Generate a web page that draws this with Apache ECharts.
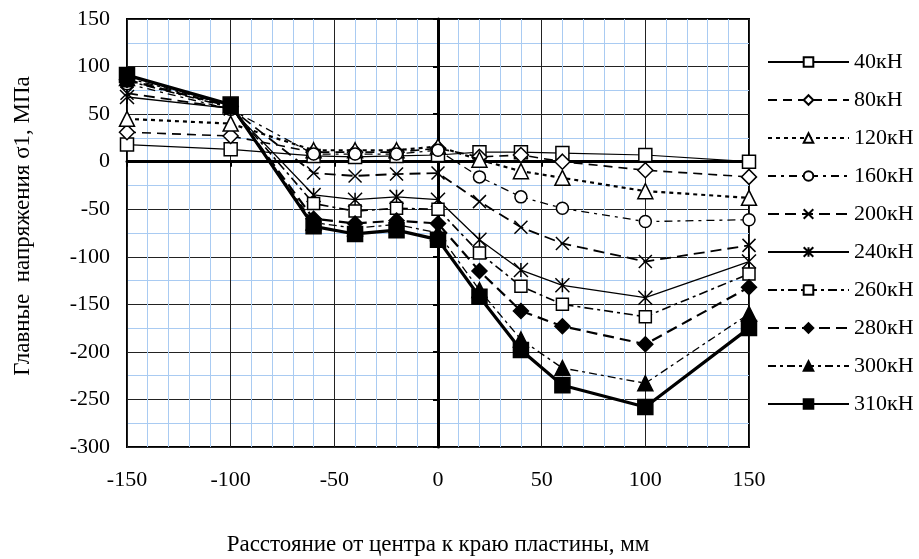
<!DOCTYPE html>
<html>
<head>
<meta charset="utf-8">
<script src="https://cdn.jsdelivr.net/npm/echarts@6/dist/echarts.min.js"></script>
<style>
html,body{margin:0;padding:0;background:#fff;}
#chart{width:919px;height:559px;}
</style>
</head>
<body>
<div id="chart"></div>
<script>
// distances from plate centre, mm
var xValues = [-150, -100, -60, -40, -20, 0, 20, 40, 60, 100, 150];
var seriesNames = ['40кН', '80кН', '120кН', '160кН', '200кН', '240кН', '260кН', '280кН', '300кН', '310кН'];
var s40  = [18, 13, 6, 5, 6, 7, 10, 10, 9, 7, 0];
var s80  = [31, 27, 10, 10, 10, 14, 5, 7, 0, -9, -16];
var s120 = [45, 40, 12, 12, 12, 16, 2, -10, -17, -31, -38];
var s160 = [82, 55, 8, 8, 8, 12, -16, -37, -49, -63, -61];
var s200 = [72, 56, -12, -15, -13, -12, -42, -69, -86, -105, -88];
var s240 = [68, 56, -35, -40, -37, -40, -82, -114, -130, -143, -105];
var s260 = [85, 57, -44, -52, -49, -50, -96, -131, -150, -163, -118];
var s280 = [86, 58, -60, -65, -62, -65, -115, -157, -173, -192, -132];
var s300 = [88, 59, -64, -70, -66, -75, -135, -187, -217, -233, -160];
var s310 = [91, 60, -68, -76, -72, -82, -142, -198, -235, -258, -175];
var xTicks = [-150, -100, -50, 0, 50, 100, 150];
var yTicks = [-300, -250, -200, -150, -100, -50, 0, 50, 100, 150];

var allValues = [s40, s80, s120, s160, s200, s240, s260, s280, s300, s310];

var FONT = 'Liberation Serif';
var X_PATH = 'path://M0,0L10,10M10,0L0,10';
var AST_PATH = 'path://M0,0L10,10M10,0L0,10M5,0L5,10';

var styles = [
  {symbol:'rect', size:13, fill:'#fff', line:'solid', w:1.2},
  {symbol:'diamond', size:15, fill:'#fff', line:[9,6], w:1.6},
  {symbol:'triangle', size:15, fill:'#fff', line:[4,4], w:2.2},
  {symbol:'circle', size:12, fill:'#fff', line:[8,5,3,5], w:1.3},
  {symbol:X_PATH, size:13, fill:'#000', line:[11,6], w:1.8},
  {symbol:AST_PATH, size:14, fill:'#000', line:'solid', w:1.3},
  {symbol:'rect', size:12, fill:'#fff', line:[9,4,3,4], w:1.6},
  {symbol:'diamond', size:15, fill:'#000', line:[11,6], w:2.2},
  {symbol:'triangle', size:15, fill:'#000', line:[8,4,3,4], w:1.3},
  {symbol:'rect', size:15, fill:'#000', line:'solid', w:3.2}
];

var series = seriesNames.map(function(name, i){
  var st = styles[i];
  return {
    name: name,
    type: 'line',
    xAxisIndex: 0,
    yAxisIndex: 0,
    data: xValues.map(function(x, k){ return [x, allValues[i][k]]; }),
    symbol: st.symbol,
    symbolSize: st.size,
    showAllSymbol: true,
    lineStyle: {color:'#000', width: st.w, type: st.line},
    itemStyle: {color: st.fill, borderColor:'#000', borderWidth: 1.5},
    emphasis: {disabled: true},
    animation: false,
    z: 3 + i
  };
});

var chart = echarts.init(document.getElementById('chart'), null, {renderer:'canvas'});
chart.setOption({
  animation: false,
  backgroundColor: '#fff',
  grid: {left:127, top:19, right:170, bottom:112, show:true, borderColor:'#000', borderWidth:2,
    backgroundColor:'transparent', containLabel:false, outerBoundsMode:'none'},
  legend: {
    orient:'vertical', left:767, top:51, padding:0,
    itemWidth:81, itemHeight:12, itemGap:16,
    textStyle:{fontFamily:FONT, fontSize:22, color:'#000', lineHeight:22, padding:[0,0,0,0]},
    data: seriesNames,
    selectedMode:false
  },
  xAxis: [
    {
      type:'value', min:-150, max:150, interval:50,
      position:'bottom',
      name:'Расстояние от центра к краю пластины, мм',
      nameLocation:'middle', nameGap:86,
      nameTextStyle:{fontFamily:FONT, fontSize:23, color:'#000'},
      axisLine:{show:false, onZero:false},
      axisTick:{show:false},
      axisLabel:{fontFamily:FONT, fontSize:22, color:'#000', margin:22,
        formatter:function(v){ return xTicks.indexOf(v) >= 0 ? String(v) : ''; }},
      splitLine:{show:true, lineStyle:{color:'#222', width:1}},
      minorTick:{show:false, splitNumber:5},
      minorSplitLine:{show:true, lineStyle:{color:'#a9cbf2', width:1}}
    },
    {
      type:'value', min:-150, max:150, interval:50,
      position:'bottom',
      axisLine:{show:true, onZero:true, lineStyle:{color:'#000', width:3}},
      axisTick:{show:true, length:5, lineStyle:{color:'#000', width:2}},
      axisLabel:{show:false},
      splitLine:{show:false}
    }
  ],
  yAxis: [
    {
      type:'value', min:-300, max:150, interval:50,
      position:'left',
      name:'Главные  напряжения σ1, МПа',
      nameLocation:'middle', nameGap:93,
      nameTextStyle:{fontFamily:FONT, fontSize:23, color:'#000', padding:[0,0,0,14]},
      axisLine:{show:false, onZero:false},
      axisTick:{show:false},
      axisLabel:{fontFamily:FONT, fontSize:22, color:'#000', margin:17,
        formatter:function(v){ return yTicks.indexOf(v) >= 0 ? String(v) : ''; }},
      splitLine:{show:true, lineStyle:{color:'#222', width:1}},
      minorTick:{show:false, splitNumber:2},
      minorSplitLine:{show:true, lineStyle:{color:'#a9cbf2', width:1}}
    },
    {
      type:'value', min:-300, max:150, interval:50,
      position:'left',
      axisLine:{show:true, onZero:true, onZeroAxisIndex:1, lineStyle:{color:'#000', width:3}},
      axisTick:{show:true, length:5, lineStyle:{color:'#000', width:2}},
      axisLabel:{show:false},
      splitLine:{show:false}
    }
  ],
  series: series
});
</script>
</body>
</html>
